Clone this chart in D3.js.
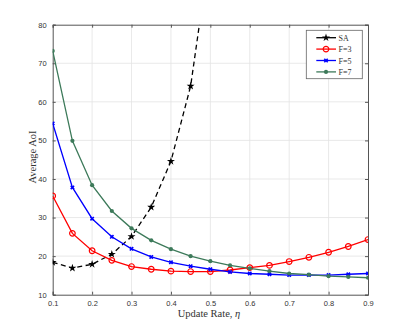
<!DOCTYPE html>
<html>
<head>
<meta charset="utf-8">
<script src="https://cdn.jsdelivr.net/npm/d3@7"></script>
<style>
body { margin: 0; background: white; }
</style>
</head>
<body>
<script>
var rates = [0.1, 0.15, 0.2, 0.25, 0.3, 0.35, 0.4, 0.45, 0.5, 0.55, 0.6, 0.65, 0.7, 0.75, 0.8, 0.85, 0.9];
var saRates = [0.1, 0.15, 0.2, 0.25, 0.3, 0.35, 0.4, 0.45, 0.5];
var saValues = [18.4, 16.9, 17.9, 20.5, 25.1, 32.7, 44.6, 64.1, 100];
var f3Values = [35.6, 25.9, 21.4, 18.9, 17.3, 16.6, 16.1, 16.0, 16.0, 16.4, 17.0, 17.6, 18.6, 19.7, 21.0, 22.5, 24.3];
var f5Values = [54.4, 37.8, 29.7, 25.0, 21.9, 19.8, 18.4, 17.4, 16.6, 15.9, 15.5, 15.3, 15.1, 15.1, 15.1, 15.3, 15.5];
var f7Values = [73.2, 49.9, 38.4, 31.7, 27.2, 24.1, 21.8, 20.0, 18.7, 17.6, 16.8, 16.1, 15.5, 15.2, 14.8, 14.6, 14.4];
var xTicks = [0.1, 0.2, 0.3, 0.4, 0.5, 0.6, 0.7, 0.8, 0.9];
var yTicks = [10, 20, 30, 40, 50, 60, 70, 80];

var width = 407, height = 331;
var plotLeft = 52.7, plotRight = 368, plotTop = 24.7, plotBottom = 294.7;

var svg = d3.select("body").append("svg")
	.attr("width", width)
	.attr("height", height)

var x = d3.scaleLinear().domain([0.1, 0.9]).range([plotLeft, plotRight]);
var y = d3.scaleLinear().domain([10, 80]).range([plotBottom, plotTop]);

svg.append("defs").append("clipPath")
	.attr("id", "plotclip")
	.append("rect")
	.attr("x", plotLeft).attr("y", plotTop)
	.attr("width", plotRight - plotLeft).attr("height", plotBottom - plotTop)

// grid
var grid = svg.append("g").attr("stroke", "#e3e3e3").attr("stroke-width", 0.8)
grid.selectAll(".gx").data(xTicks.slice(1, -1)).enter().append("line")
	.attr("x1", d => x(d)).attr("x2", d => x(d))
	.attr("y1", plotTop).attr("y2", plotBottom)
grid.selectAll(".gy").data(yTicks.slice(1, -1)).enter().append("line")
	.attr("y1", d => y(d)).attr("y2", d => y(d))
	.attr("x1", plotLeft).attr("x2", plotRight)

// axes, ticks inward
var axisColor = "#555";
var tickFont = "'Liberation Sans', Arial, sans-serif";

svg.append("g")
	.attr("transform", "translate(0," + plotBottom + ")")
	.call(d3.axisBottom(x).tickValues(xTicks).tickSize(-3).tickPadding(6).tickFormat(d3.format(".1f")))
svg.append("g")
	.attr("transform", "translate(0," + plotTop + ")")
	.call(d3.axisTop(x).tickValues(xTicks).tickSize(-3).tickFormat(""))
svg.append("g")
	.attr("transform", "translate(" + plotLeft + ",0)")
	.call(d3.axisLeft(y).tickValues(yTicks).tickSize(-3).tickPadding(6))
svg.append("g")
	.attr("transform", "translate(" + plotRight + ",0)")
	.call(d3.axisRight(y).tickValues(yTicks).tickSize(-3).tickFormat(""))

svg.selectAll(".domain").attr("stroke", axisColor).attr("stroke-width", 1)
svg.selectAll(".tick line").attr("stroke", axisColor)
svg.selectAll(".tick text")
	.attr("fill", "#333")
	.style("font-family", tickFont)
	.style("font-size", "7.5px")

// labels
svg.append("text")
	.attr("x", 209).attr("y", 317)
	.attr("text-anchor", "middle")
	.style("font-family", "'Liberation Serif', 'DejaVu Serif', serif")
	.style("font-size", "10.5px")
	.attr("fill", "#333")
	.html("Update Rate, <tspan font-style='italic'>η</tspan>")

svg.append("text")
	.attr("transform", "translate(36,157) rotate(-90)")
	.attr("text-anchor", "middle")
	.style("font-family", "'Liberation Serif', 'DejaVu Serif', serif")
	.style("font-size", "10.5px")
	.attr("fill", "#333")
	.text("Average AoI")

var line = d3.line().x(d => x(d[0])).y(d => y(d[1]));

var series = [
	{ name: "SA", color: "black", rates: saRates, values: saValues, marker: "star", dash: "5,3.5" },
	{ name: "F=3", color: "#ff0000", rates: rates, values: f3Values, marker: "circle", dash: null },
	{ name: "F=5", color: "#0000ff", rates: rates, values: f5Values, marker: "x", dash: null },
	{ name: "F=7", color: "#3d7a5a", rates: rates, values: f7Values, marker: "dot", dash: null }
];

var drawMarker = (g, type, color) => {
	if (type === "star") {
		g.append("path")
			.attr("d", d3.symbol().type(d3.symbolStar).size(20))
			.attr("fill", color)
	} else if (type === "circle") {
		g.append("circle").attr("r", 2.8)
			.attr("fill", "none").attr("stroke", color).attr("stroke-width", 1.2)
	} else if (type === "x") {
		g.append("path")
			.attr("d", d3.symbol().type(d3.symbolX).size(9))
			.attr("stroke", color).attr("stroke-width", 1.6).attr("fill", "none")
	} else {
		g.append("circle").attr("r", 2.1).attr("fill", color)
	}
}

var plot = svg.append("g").attr("clip-path", "url(#plotclip)")

series.forEach(s => {
	var pts = s.rates.map((r, i) => [r, s.values[i]]);
	plot.append("path")
		.datum(pts)
		.attr("d", line)
		.attr("fill", "none")
		.attr("stroke", s.color)
		.attr("stroke-width", 1.3)
		.attr("stroke-dasharray", s.dash)
	pts.forEach(p => {
		var g = plot.append("g").attr("transform", "translate(" + x(p[0]) + "," + y(p[1]) + ")");
		drawMarker(g, s.marker, s.color);
	});
});

// legend
var legend = svg.append("g")
legend.append("rect")
	.attr("x", 306.3).attr("y", 30.3)
	.attr("width", 56).attr("height", 48.4)
	.attr("fill", "white").attr("stroke", "#666").attr("stroke-width", 0.8)

series.forEach((s, i) => {
	var ly = 37.7 + i * 11.4;
	legend.append("line")
		.attr("x1", 316.3).attr("x2", 336)
		.attr("y1", ly).attr("y2", ly)
		.attr("stroke", s.color).attr("stroke-width", 1.3)
	var g = legend.append("g").attr("transform", "translate(326," + ly + ")");
	drawMarker(g, s.marker, s.color);
	legend.append("text")
		.attr("x", 338.5).attr("y", ly + 3)
		.style("font-family", "'Liberation Serif', 'DejaVu Serif', serif")
		.style("font-size", "8px")
		.attr("fill", "#333")
		.text(s.name)
});
</script>
</body>
</html>
